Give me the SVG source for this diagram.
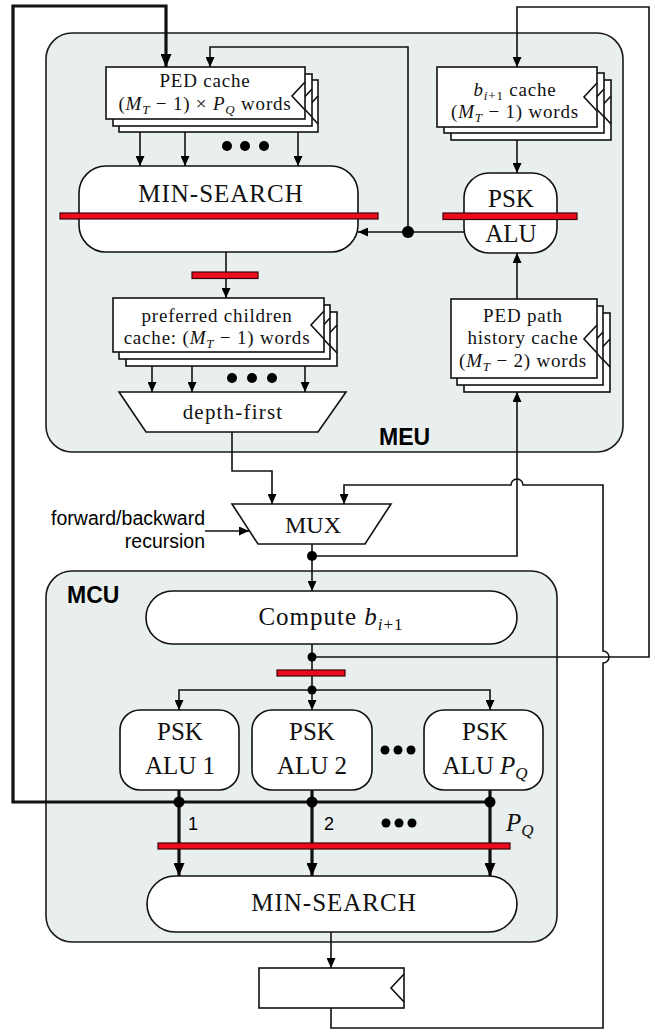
<svg xmlns="http://www.w3.org/2000/svg" width="655" height="1032" viewBox="0 0 655 1032">
<style>
.panel{fill:#e9eeee;stroke:#1a1a1a;stroke-width:1.6}
.box{fill:#fff;stroke:#111;stroke-width:1.6}
.ln{fill:none;stroke:#111;stroke-width:1.6}
.thk{fill:none;stroke:#111;stroke-width:3.2}
.reg{fill:#ec0c1e;stroke:#3a0505;stroke-width:1.2}
.dot{fill:#000}
.s19{font-family:"Liberation Serif",serif;font-size:19px;letter-spacing:0.8px;text-anchor:middle;fill:#111}
.s25{font-family:"Liberation Serif",serif;font-size:25px;text-anchor:middle;fill:#111}
.sb{font-family:"Liberation Sans",Arial,sans-serif;font-weight:bold;font-size:23px;fill:#000}
.sn{font-family:"Liberation Sans",Arial,sans-serif;font-size:19.5px;fill:#000}
.it{font-style:italic}
</style>
<defs>
<marker id="a" markerWidth="10" markerHeight="9" refX="10" refY="4.5" orient="auto" markerUnits="userSpaceOnUse"><path d="M0,0 L10,4.5 L0,9 z" fill="#000"/></marker>
<marker id="A" markerWidth="13" markerHeight="11" refX="13" refY="5.5" orient="auto" markerUnits="userSpaceOnUse"><path d="M0,0 L13,5.5 L0,11 z" fill="#000"/></marker>
<g id="clk"><path d="M0,-14 L-13,0 L0,14" fill="none" stroke="#111" stroke-width="1.6"/></g>
</defs>

<g id="MEU">
<rect class="panel" x="46" y="33" width="577" height="419" rx="26"/>
<text class="sb" x="379" y="445">MEU</text>
</g>
<g id="MCU">
<rect class="panel" x="46" y="571" width="511" height="371" rx="26"/>
<text class="sb" x="67" y="603">MCU</text>
</g>

<g id="ped-cache">
<rect class="box" x="119" y="80" width="199" height="52"/><use href="#clk" x="318" y="110"/>
<rect class="box" x="113" y="74" width="199" height="52"/><use href="#clk" x="312" y="103"/>
<rect class="box" x="106" y="67" width="199" height="52"/><use href="#clk" x="305" y="96"/>
<text class="s19" x="205" y="87">PED cache</text>
<text class="s19" x="205" y="110">(<tspan class="it">M</tspan><tspan class="it" font-size="13" dy="4">T</tspan><tspan dy="-4"> − 1) × </tspan><tspan class="it">P</tspan><tspan class="it" font-size="13" dy="4">Q</tspan><tspan dy="-4"> words</tspan></text>
</g>

<g id="b-cache">
<rect class="box" x="451" y="80" width="160" height="60"/><use href="#clk" x="611" y="110"/>
<rect class="box" x="444" y="73" width="160" height="60"/><use href="#clk" x="604" y="103"/>
<rect class="box" x="437" y="67" width="160" height="60"/><use href="#clk" x="597" y="97"/>
<text class="s19" x="515" y="96"><tspan class="it">b</tspan><tspan class="it" font-size="13" dy="4">i</tspan><tspan font-size="13">+1</tspan><tspan dy="-4"> cache</tspan></text>
<text class="s19" x="515" y="118">(<tspan class="it">M</tspan><tspan class="it" font-size="13" dy="4">T</tspan><tspan dy="-4"> − 1) words</tspan></text>
</g>

<g id="min-search-meu">
<rect class="box" x="79" y="166" width="279" height="86" rx="27"/>
<text class="s25" x="221" y="202" style="letter-spacing:1px">MIN-SEARCH</text>
</g>

<g id="psk-alu-meu">
<rect class="box" x="464" y="173" width="93" height="80" rx="25"/>
<text class="s25" x="511" y="207">PSK</text>
<text class="s25" x="511" y="242">ALU</text>
</g>

<g id="pref-cache">
<rect class="box" x="126" y="312" width="211" height="54"/><use href="#clk" x="337" y="339"/>
<rect class="box" x="119" y="305" width="211" height="54"/><use href="#clk" x="330" y="332"/>
<rect class="box" x="113" y="298" width="211" height="54"/><use href="#clk" x="324" y="325"/>
<text class="s19" x="217" y="322">preferred children</text>
<text class="s19" x="217" y="344">cache: (<tspan class="it">M</tspan><tspan class="it" font-size="13" dy="4">T</tspan><tspan dy="-4"> − 1) words</tspan></text>
</g>

<g id="ped-path-cache">
<rect class="box" x="464" y="313" width="146" height="79"/><use href="#clk" x="610" y="353"/>
<rect class="box" x="457" y="306" width="146" height="79"/><use href="#clk" x="603" y="346"/>
<rect class="box" x="451" y="299" width="146" height="79"/><use href="#clk" x="597" y="339"/>
<text class="s19" x="523" y="322">PED path</text>
<text class="s19" x="523" y="344">history cache</text>
<text class="s19" x="523" y="367">(<tspan class="it">M</tspan><tspan class="it" font-size="13" dy="4">T</tspan><tspan dy="-4"> − 2) words</tspan></text>
</g>

<g id="depth-first">
<polygon class="box" points="119,392 346,392 318,432 146,432"/>
<text class="s25" x="233" y="419" style="font-size:21px;letter-spacing:1.2px">depth-first</text>
</g>

<g id="mux">
<polygon class="box" points="232,504 391,504 365,544 258,544"/>
<text class="s25" x="313" y="533" style="font-size:24px">MUX</text>
<text class="sn" x="205" y="525" text-anchor="end">forward/backward</text>
<text class="sn" x="205" y="548" text-anchor="end">recursion</text>
</g>

<g id="compute">
<rect class="box" x="146" y="591" width="371" height="53" rx="26.5"/>
<text class="s25" x="331" y="625" style="letter-spacing:1px">Compute <tspan class="it">b</tspan><tspan class="it" font-size="17" dy="5">i</tspan><tspan font-size="17">+1</tspan></text>
</g>

<g id="psk-alu-1">
<rect class="box" x="120" y="710" width="119" height="80" rx="20"/>
<text class="s25" x="180" y="740">PSK</text>
<text class="s25" x="180" y="774">ALU 1</text>
</g>
<g id="psk-alu-2">
<rect class="box" x="252" y="710" width="120" height="80" rx="20"/>
<text class="s25" x="312" y="740">PSK</text>
<text class="s25" x="312" y="774">ALU 2</text>
</g>
<g id="psk-alu-pq">
<rect class="box" x="424" y="710" width="119" height="80" rx="20"/>
<text class="s25" x="485" y="740">PSK</text>
<text class="s25" x="485" y="774">ALU <tspan class="it">P</tspan><tspan class="it" font-size="17" dy="5">Q</tspan></text>
</g>

<g id="min-search-mcu">
<rect class="box" x="147" y="876" width="370" height="56" rx="28"/>
<text class="s25" x="334" y="911" style="letter-spacing:1px">MIN-SEARCH</text>
</g>

<g id="output-register">
<rect class="box" x="259" y="968" width="145" height="40"/>
<use href="#clk" x="404" y="988"/>
</g>

<g id="connectors">
<path class="thk" d="M490,802 H13 V6 H166 V67" marker-end="url(#A)"/>
<path class="thk" d="M179,790 V876" marker-end="url(#A)"/>
<path class="thk" d="M312,790 V876" marker-end="url(#A)"/>
<path class="thk" d="M490,790 V876" marker-end="url(#A)"/>
<path class="ln" d="M408,232 V47 H210 V67" marker-end="url(#a)"/>
<path class="ln" d="M464,232 H358" marker-end="url(#a)"/>
<path class="ln" d="M140,132 V166" marker-end="url(#a)"/>
<path class="ln" d="M185,132 V166" marker-end="url(#a)"/>
<path class="ln" d="M298,132 V166" marker-end="url(#a)"/>
<path class="ln" d="M517,140 V173" marker-end="url(#a)"/>
<path class="ln" d="M517,299 V253" marker-end="url(#a)"/>
<path class="ln" d="M226,252 V298" marker-end="url(#a)"/>
<path class="ln" d="M152,366 V392" marker-end="url(#a)"/>
<path class="ln" d="M192,366 V392" marker-end="url(#a)"/>
<path class="ln" d="M305,366 V392" marker-end="url(#a)"/>
<path class="ln" d="M232,432 V471 H272 V504" marker-end="url(#a)"/>
<path class="ln" d="M205,531 H249" marker-end="url(#a)"/>
<path class="ln" d="M312,544 V591" marker-end="url(#a)"/>
<path class="ln" d="M312,556 H517 V392" marker-end="url(#a)"/>
<path class="ln" d="M312,644 V710" marker-end="url(#a)"/>
<path class="ln" d="M312,690 H179 V710" marker-end="url(#a)"/>
<path class="ln" d="M312,690 H490 V710" marker-end="url(#a)"/>
<path class="ln" d="M312,657 H649 V7 H517 V67" marker-end="url(#a)"/>
<path class="ln" d="M331,932 V968" marker-end="url(#a)"/>
<path class="ln" d="M331,1008 V1028 H603 V663 A6,6 0 0 0 603,651 V485 H523 A6,6 0 0 0 511,485 H344 V504" marker-end="url(#a)"/>
<circle class="dot" cx="408" cy="232" r="6"/>
<circle class="dot" cx="312" cy="556" r="5"/>
<circle class="dot" cx="312" cy="657" r="4.5"/>
<circle class="dot" cx="312" cy="690" r="4.5"/>
<circle class="dot" cx="179" cy="802" r="5.5"/>
<circle class="dot" cx="312" cy="802" r="5.5"/>
<circle class="dot" cx="490" cy="802" r="5.5"/>
</g>

<g id="ellipses">
<circle class="dot" cx="227" cy="146" r="5"/><circle class="dot" cx="245" cy="146" r="5"/><circle class="dot" cx="264" cy="146" r="5"/>
<circle class="dot" cx="232" cy="378" r="5"/><circle class="dot" cx="252" cy="378" r="5"/><circle class="dot" cx="272" cy="378" r="5"/>
<circle class="dot" cx="385" cy="750" r="4.5"/><circle class="dot" cx="398" cy="750" r="4.5"/><circle class="dot" cx="411" cy="750" r="4.5"/>
<circle class="dot" cx="386" cy="823" r="4.5"/><circle class="dot" cx="399" cy="823" r="4.5"/><circle class="dot" cx="412" cy="823" r="4.5"/>
</g>

<g id="bus-labels">
<text class="sn" x="188" y="830" style="font-size:18px">1</text>
<text class="sn" x="324" y="830" style="font-size:18px">2</text>
<text class="s25" x="506" y="831" style="text-anchor:start" font-style="italic">P<tspan font-size="17" dy="5">Q</tspan></text>
</g>

<g id="pipeline-registers">
<rect class="reg" x="60" y="213" width="318" height="6"/>
<rect class="reg" x="443" y="213" width="134" height="6.5"/>
<rect class="reg" x="192" y="272" width="66" height="6.5"/>
<rect class="reg" x="277" y="670" width="68" height="6"/>
<rect class="reg" x="158" y="843" width="352" height="6"/>
</g>
</svg>
